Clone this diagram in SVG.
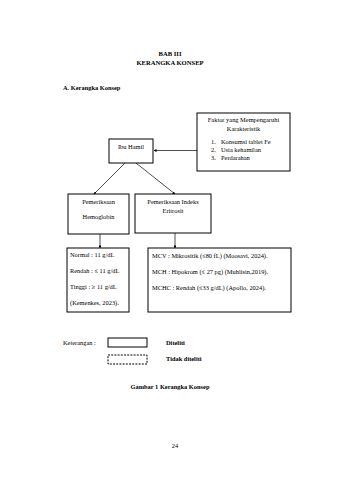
<svg xmlns="http://www.w3.org/2000/svg" width="339" height="480" viewBox="0 0 339 480">
<style>
text{font-family:"Liberation Serif","Times New Roman",serif;font-size:6.4px;fill:#000}
.b{font-weight:bold}
.c{text-anchor:middle}
.box{fill:#fff;stroke:#000;stroke-width:1}
.ln{stroke:#000;stroke-width:0.7;fill:none}
</style>
<defs>
<marker id="ah" viewBox="0 0 10 10" refX="9" refY="5" markerWidth="4" markerHeight="4" orient="auto">
<path d="M0,0 L10,5 L0,10 z" fill="#000"/>
</marker>
</defs>
<rect width="339" height="480" fill="#fff"/>
<text class="b c" x="170" y="56" style="font-size:6.6px">BAB III</text>
<text class="b c" x="170" y="65" style="font-size:6.6px">KERANGKA KONSEP</text>
<text class="b" x="63" y="90">A.  Kerangka Konsep</text>

<g id="connectors">
<line class="ln" x1="197" y1="150.5" x2="154" y2="150.5" marker-end="url(#ah)"/>
<line class="ln" x1="125" y1="163" x2="94" y2="194" marker-end="url(#ah)"/>
<line class="ln" x1="136" y1="163" x2="175" y2="194" marker-end="url(#ah)"/>
<line class="ln" x1="100" y1="234" x2="100" y2="248" marker-end="url(#ah)"/>
<line class="ln" x1="175" y1="233" x2="175" y2="248" marker-end="url(#ah)"/>
</g>

<g id="faktor">
<rect class="box" x="197" y="113" width="93" height="58"/>
<text class="c" x="243.5" y="122">Faktor yang Mempengaruhi</text>
<text class="c" x="243.5" y="131">Karakteristik</text>
<text x="211" y="144">1.</text><text x="221" y="144">Konsumsi tablet Fe</text>
<text x="211" y="152">2.</text><text x="221" y="152">Usia kehamilan</text>
<text x="211" y="160">3.</text><text x="221" y="160">Perdarahan</text>
</g>

<g id="ibu-hamil">
<rect class="box" x="109" y="139" width="44" height="24"/>
<text class="c" x="131" y="149">Ibu Hamil</text>
</g>

<g id="hb">
<rect class="box" x="68" y="194" width="61" height="40"/>
<text class="c" x="98.5" y="204">Pemeriksaan</text>
<text class="c" x="98.5" y="219">Hemoglobin</text>
</g>

<g id="indeks">
<rect class="box" x="135" y="194" width="76" height="39"/>
<text class="c" x="173" y="204">Pemeriksaan Indeks</text>
<text class="c" x="173" y="213">Eritrosit</text>
</g>

<g id="hb-nilai">
<rect class="box" x="67" y="248" width="62" height="64"/>
<text x="70" y="257">Normal : 11 g/dL</text>
<text x="70" y="273">Rendah : ≤ 11 g/dL</text>
<text x="70" y="289">Tinggi : ≥ 11 g/dL</text>
<text x="70" y="305">(Kemenkes, 2023).</text>
</g>

<g id="indeks-nilai">
<rect class="box" x="148" y="248" width="143" height="64"/>
<text x="152" y="258">MCV : Mikrositik (≤80 fL) (Moosavi, 2024).</text>
<text x="152" y="274">MCH : Hipokrom (≤ 27 pg) (Muhlisin,2019).</text>
<text x="152" y="290">MCHC : Rendah (≤33 g/dL) (Apollo, 2024).</text>
</g>

<g id="legend">
<text x="63" y="345">Keterangan :</text>
<rect class="box" x="108" y="338" width="39" height="9"/>
<text class="b" x="166" y="345">Diteliti</text>
<rect class="box" x="108" y="355" width="39" height="9" stroke-dasharray="2,1.2"/>
<text class="b" x="166" y="361">Tidak diteliti</text>
</g>

<text class="b c" x="170" y="389">Gambar 1 Kerangka Konsep</text>
<text class="c" x="175" y="448">24</text>
</svg>
